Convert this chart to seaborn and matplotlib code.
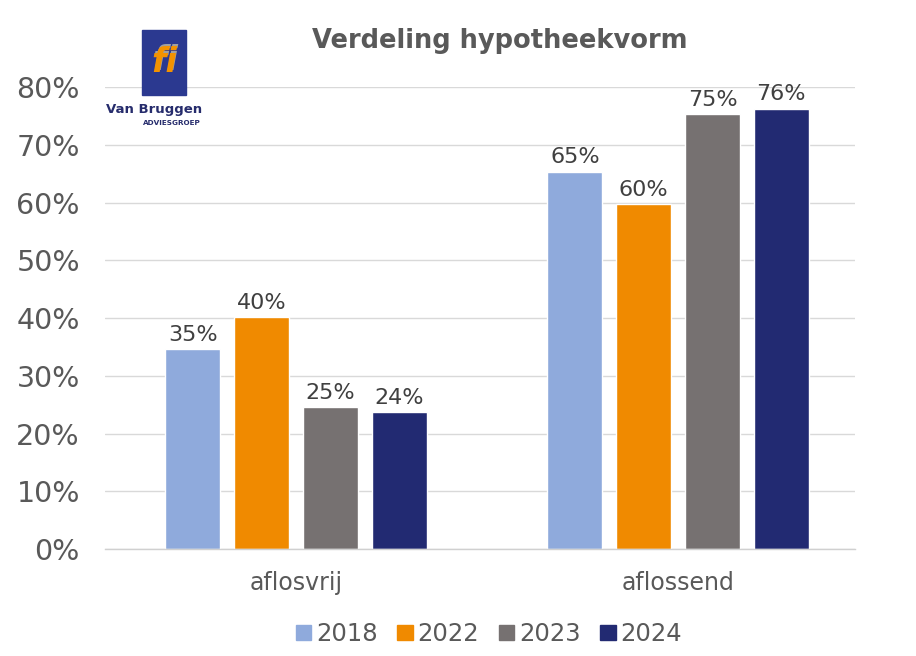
import matplotlib
matplotlib.use("Agg")
import matplotlib.pyplot as plt
import matplotlib.patches as mpatches
import seaborn as sns
import pandas as pd

categories = ["aflosvrij", "aflossend"]
years = ["2018", "2022", "2023", "2024"]
values_2018 = [34.6, 65.4]
values_2022 = [40.2, 59.8]
values_2023 = [24.6, 75.4]
values_2024 = [23.7, 76.3]
colors = ["#8FAADC", "#F08A00", "#767171", "#222A72"]
yticks = [0, 10, 20, 30, 40, 50, 60, 70, 80]
title = "Verdeling hypotheekvorm"

series = [values_2018, values_2022, values_2023, values_2024]
rows = []
for y, vals in zip(years, series):
    for c, v in zip(categories, vals):
        rows.append({"categorie": c, "jaar": y, "waarde": v})
df = pd.DataFrame(rows)

sns.set_theme(style="white")
plt.rcParams["font.family"] = ["DejaVu Sans"]

fig = plt.figure(figsize=(9.16, 6.56), dpi=100)
ax = fig.add_axes([105 / 916, 1 - 549 / 656, 750 / 916, (549 - 87.3) / 656])

sns.barplot(data=df, x="categorie", y="waarde", hue="jaar", order=categories,
            hue_order=years, palette=colors, width=0.72, gap=0.2,
            saturation=1, legend=False, ax=ax, errorbar=None)

for cont in ax.containers:
    ax.bar_label(cont, labels=[f"{b.get_height():.0f}%" for b in cont],
                 padding=3, fontsize=16, color="#404040")

ax.set_ylim(0, 80)
ax.set_xlim(-0.5, 1.463)
ax.set_yticks(yticks)
ax.set_yticklabels([f"{t}%" for t in yticks])
ax.tick_params(axis="y", labelsize=20.5, labelcolor="#595959", length=0, pad=18)
ax.tick_params(axis="x", labelsize=17, labelcolor="#595959", length=0, pad=16)
ax.set_xlabel("")
ax.set_ylabel("")
ax.grid(axis="y", color="#D9D9D9", linewidth=1)
ax.set_axisbelow(True)
for s in ["top", "left", "right"]:
    ax.spines[s].set_visible(False)
ax.spines["bottom"].set_color("#D0D0D0")
ax.spines["bottom"].set_linewidth(1)

fig.text(500 / 916, 1 - 41 / 656, title, ha="center", va="center",
         fontsize=18.5, fontweight="bold", color="#595959")

handles = [mpatches.Patch(color=c, label=y) for c, y in zip(colors, years)]
fig.legend(handles=handles, loc="center", bbox_to_anchor=(489 / 916, 1 - 634 / 656),
           ncol=4, frameon=False, fontsize=17.5, handlelength=0.62, handleheight=0.6,
           handletextpad=0.2, columnspacing=0.82, labelcolor="#595959")

# logo
fig.patches.append(mpatches.Rectangle((142 / 916, 1 - 95 / 656), 44 / 916, 65 / 656,
                                      transform=fig.transFigure, color="#2B3990", zorder=5))
fig.text(165.5 / 916, 1 - 61 / 656, "fi", ha="center", va="center", fontsize=24,
         fontstyle="italic", fontweight="bold", color="#A0A0A0", zorder=6)
fig.text(164 / 916, 1 - 62.5 / 656, "fi", ha="center", va="center", fontsize=24,
         fontstyle="italic", fontweight="bold", color="#F39200", zorder=7)
fig.text(154 / 916, 1 - 109 / 656, "Van Bruggen", ha="center", va="center",
         fontsize=9.5, fontweight="bold", color="#262C6C")
fig.text(172 / 916, 1 - 123 / 656, "ADVIESGROEP", ha="center", va="center",
         fontsize=5.2, fontweight="bold", color="#262C6C")

fig.savefig("out.png", dpi=100)
